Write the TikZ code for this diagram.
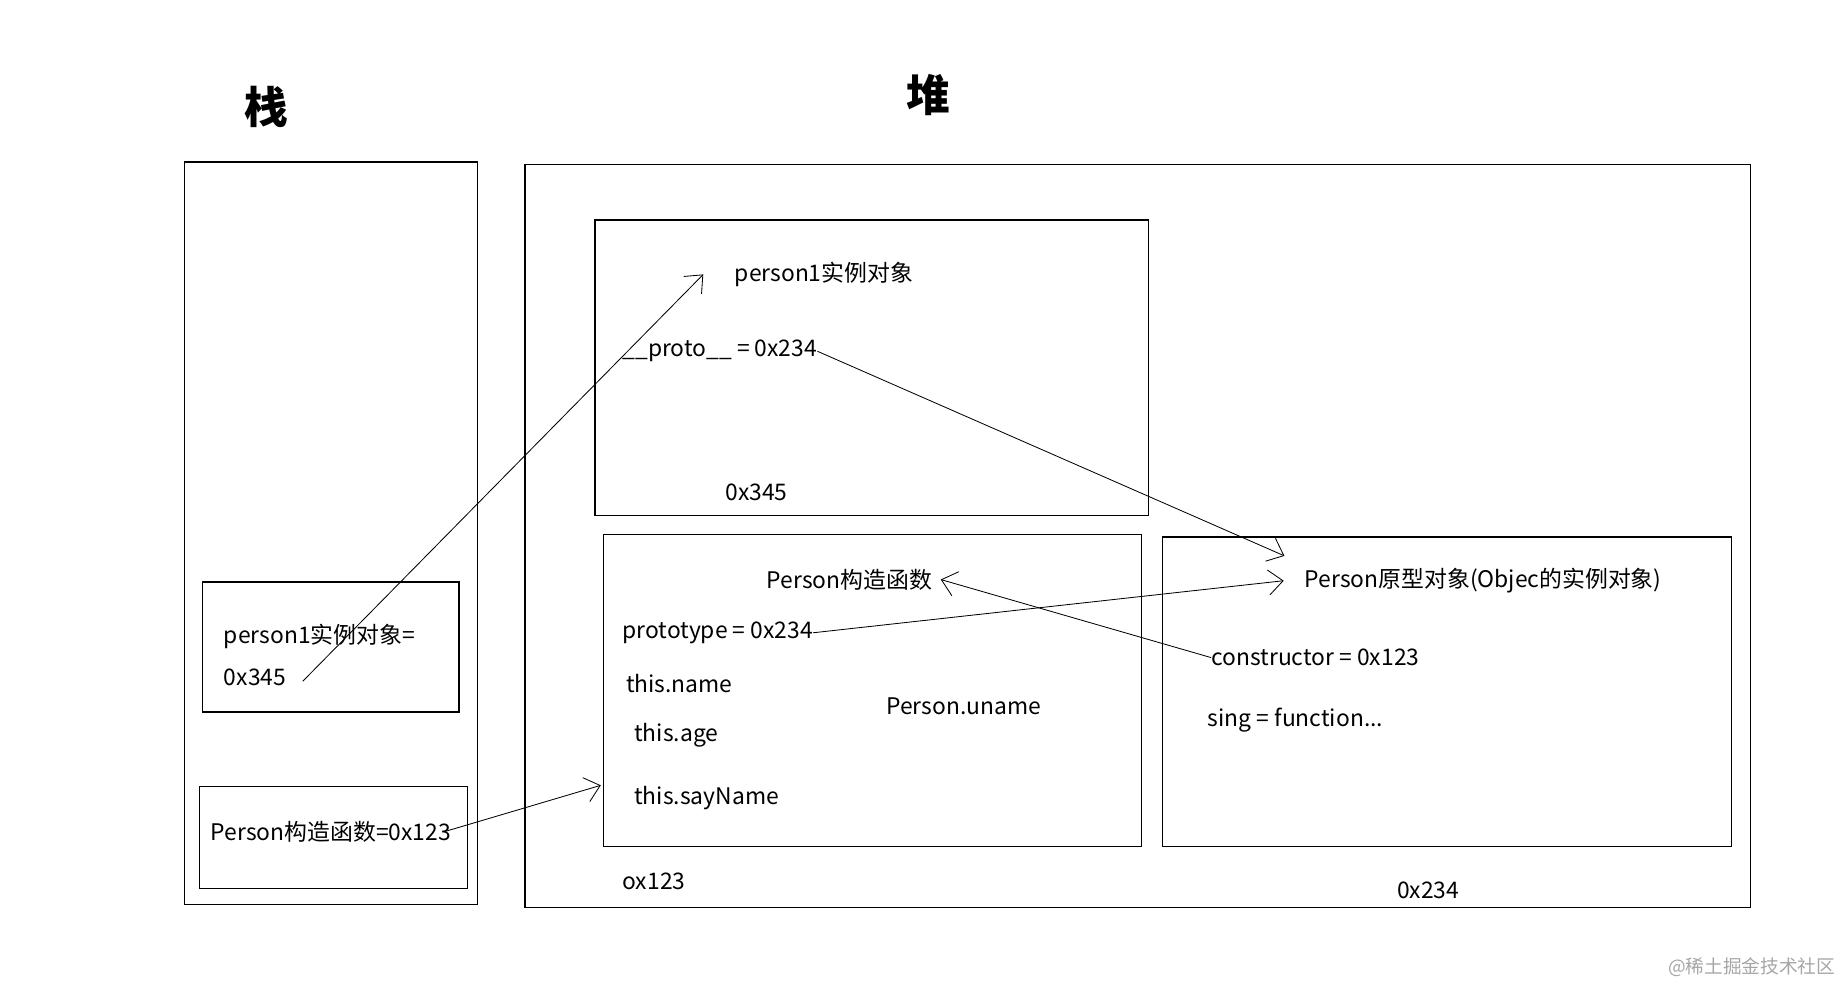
\documentclass[tikz,border=0pt]{standalone}
\usepackage{fontspec}
\setmainfont{Noto Sans CJK SC}
\usetikzlibrary{arrows.meta}
\tikzset{
  box/.style={draw, line width=0.6pt},
  txt/.style={font=\fontsize{11}{13}\selectfont, inner sep=0pt, anchor=west},
  ptr/.style={line width=0.4pt, -{Straight Barb[length=7pt, width=12pt]}},
}
\begin{document}
\begin{tikzpicture}[x=0.02cm, y=-0.02cm]
  \useasboundingbox (0,0) rectangle (1560,846);
  % titles
  \node[font=\fontsize{21}{24}\selectfont\bfseries] (stk) at (225,90) {栈};
  \node[font=\fontsize{21}{24}\selectfont\bfseries] (hp) at (785,80) {堆};
  % frames
  \draw[box] (156,137) rectangle (404,765);
  \draw[box] (444,139) rectangle (1480,767);
  \draw[box] (503,186) rectangle (971,436);
  \draw[box] (510,452) rectangle (965,716);
  \draw[box] (983,454) rectangle (1464,716);
  \draw[box] (171,492) rectangle (388,602);
  \draw[box] (169,665) rectangle (395,751);
  % stack
  \node[txt] (p1lbl) at (189,538) {person1实例对象=};
  \node[txt] (p1val) at (189,573) {0x345};
  \node[txt] (ctorval) at (178,703) {Person构造函数=0x123};
  % instance
  \node[txt] (insttitle) at (621,232) {person1实例对象};
  \node[txt] (proto) at (526,297) {\_\_proto\_\_ = 0x234};
  \node[txt] (addr1) at (613,416) {0x345};
  % constructor
  \node[txt] (ctortitle) at (648,490) {Person构造函数};
  \node[txt] (prototype) at (526,535) {prototype = 0x234};
  \node[txt] (tname) at (529,578) {this.name};
  \node[txt] (tage) at (536,622) {this.age};
  \node[txt] (tsay) at (536,675) {this.sayName};
  \node[txt] (uname) at (749,597) {Person.uname};
  \node[txt] (addr2) at (526,745) {ox123};
  % prototype object
  \node[txt] (prototitle) at (1103,491) {Person原型对象(Objec的实例对象)};
  \node[txt] (constr) at (1024,556) {constructor = 0x123};
  \node[txt] (sing) at (1021,609) {sing = function...};
  \node[txt] (addr3) at (1181,753) {0x234};
  \coordinate (protoend) at (1086,470);
  \coordinate (ctorend) at (508,664);
  % pointers
  \draw[ptr] (256,576) -- ([xshift=-15]insttitle.west);
  \draw[ptr] (proto.east) -- (protoend);
  \draw[ptr] (prototype.east) -- ([xshift=-10]prototitle.west);
  \draw[ptr] (constr.west) -- ([xshift=4]ctortitle.east);
  \draw[ptr] ([xshift=-3]ctorval.east) -- (ctorend);
  \node[txt, text=gray!70, font=\fontsize{9}{11}\selectfont] (wm) at (1410,818) {@稀土掘金技术社区};
\end{tikzpicture}
\end{document}
